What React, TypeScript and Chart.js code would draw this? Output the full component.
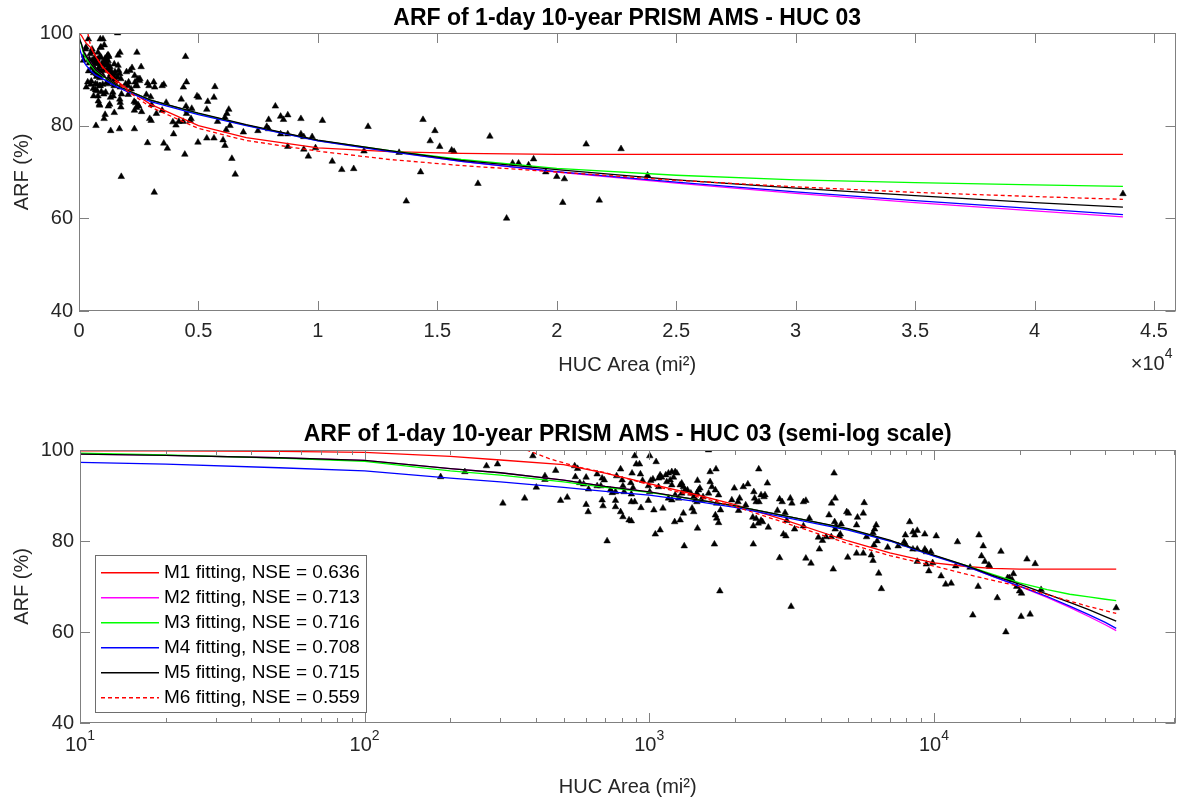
import React, { useEffect, useRef } from 'react';
import { Chart, registerables } from 'chart.js';

Chart.register(...registerables);

// ---------- text ----------
const TOP_TITLE = 'ARF of 1-day 10-year PRISM AMS - HUC 03';
const BOTTOM_TITLE = 'ARF of 1-day 10-year PRISM AMS - HUC 03 (semi-log scale)';
const X_TITLE = 'HUC Area (mi\u00B2)';
const Y_TITLE = 'ARF (%)';
const LEGEND_LABELS = [
  'M1 fitting, NSE = 0.636',
  'M2 fitting, NSE = 0.713',
  'M3 fitting, NSE = 0.716',
  'M4 fitting, NSE = 0.708',
  'M5 fitting, NSE = 0.715',
  'M6 fitting, NSE = 0.559',
];
const FIT_COLORS = ['#ff0000', '#ff00ff', '#00ff00', '#0000ff', '#000000', '#ff0000'];
const FIT_DASHED = [false, false, false, false, false, true];

// ---------- ticks ----------
const X_LIN_TICKS = [0, 5000, 10000, 15000, 20000, 25000, 30000, 35000, 40000, 45000];
const X_LOG_TICKS = [10, 100, 1000, 10000];
const LOG_MANTISSA = [2, 3, 4, 5, 6, 7, 8, 9];
const Y_TICKS = [40, 60, 80, 100];

// ---------- fitted curves ----------
const FIT_AREA = [10, 20, 50, 100, 200, 300, 500, 700, 1000, 1500, 2000, 3000, 5000, 7000, 10000, 13000, 16000, 20000, 25000, 30000, 35000, 40000, 43700];
const M1 = [99.8, 99.8, 99.7, 99.5, 98.6, 97.8, 96.8, 94.9, 92.6, 90.0, 88.0, 84.6, 80.0, 77.4, 75.2, 74.4, 74.0, 73.8, 73.8, 73.8, 73.8, 73.8, 73.8];
const M2 = [99.1, 98.8, 98.3, 97.7, 95.9, 95.0, 93.4, 92.0, 90.8, 89.0, 87.7, 85.5, 82.6, 80.1, 76.8, 74.5, 72.3, 70.0, 67.6, 65.4, 63.4, 61.6, 60.3];
const M3 = [99.3, 98.9, 98.2, 97.5, 95.4, 94.5, 93.0, 91.8, 90.7, 89.0, 87.7, 85.5, 82.6, 80.1, 76.8, 74.6, 72.7, 70.8, 69.3, 68.3, 67.7, 67.2, 66.9];
const M4 = [97.3, 96.9, 96.1, 95.4, 93.8, 93.0, 91.8, 90.9, 90.1, 88.6, 87.4, 85.2, 82.4, 80.0, 76.7, 74.4, 72.3, 70.1, 67.8, 65.7, 63.8, 62.1, 60.8];
const M5 = [99.1, 98.8, 98.3, 97.7, 95.9, 95.0, 93.4, 92.0, 90.8, 89.0, 87.7, 85.5, 82.7, 80.2, 76.9, 74.6, 72.5, 70.5, 68.3, 66.5, 64.9, 63.4, 62.4];
const M6_AREA = [370, 450, 560, 700, 1000, 1500, 2000, 3000, 5000, 7000, 10000, 13000, 16000, 20000, 25000, 30000, 35000, 40000, 43700];
const M6 = [100, 98.0, 96.3, 95.0, 92.4, 89.6, 87.6, 84.0, 79.4, 76.8, 74.5, 72.7, 71.4, 70.0, 68.2, 66.8, 65.6, 64.7, 64.1];

// ---------- observed ARF (scatter) ----------
const POINT_AREA = [
  185, 225, 268, 293, 390, 306, 365, 401, 430, 430, 469, 488, 515, 547, 560, 550, 600, 570, 588, 612,
  600, 610, 656, 683, 695, 656, 676, 683, 688, 711, 730, 741, 761, 768, 793, 761, 761, 793, 808, 849,
  865, 803, 808, 816, 861, 870, 889, 900, 924, 865, 877, 889, 865, 931, 935, 947, 1004, 1012, 1030, 993,
  1004, 993, 1038, 1057, 1050, 1615, 1092, 1078, 1105, 1143, 1168, 1200, 1233, 1250, 1217, 1184, 1152, 1200, 1078, 1284,
  1300, 1318, 1335, 1300, 1268, 1233, 1200, 1168, 1117, 1318, 1284, 1228, 1092, 1327, 1362, 1400, 1433, 1470, 1490, 1506,
  1452, 1470, 1525, 1545, 1477, 1636, 1716, 1636, 1660, 1616, 1414, 1433, 1477, 1707, 1752, 1725, 1780, 1707, 1725, 1752,
  1694, 1770, 1990, 1950, 2050, 2077, 2182, 2060, 2140, 2220, 2425, 2600, 2330, 2470, 2530, 2345, 2375, 2430, 2550, 2310,
  2375, 2470, 2320, 2415, 2500, 2620, 2320, 2870, 2930, 3130, 3170, 2820, 3000, 3040, 3240, 2960, 3020, 2870, 3150, 3480,
  3550, 3480, 3550, 3700, 4460, 4500, 4370, 4280, 4480, 4530, 4720, 4500, 4650, 4690, 3650, 3930, 4060, 4180, 4360, 3960,
  4940, 5010, 4980, 4430, 5390, 5350, 5690, 5650, 5350, 5650, 5800, 6030, 6110, 6160, 6110, 6190, 6270, 6320, 6400, 6540,
  6880, 7490, 7860, 7940, 8220, 8440, 8560, 8740, 7940, 8440, 8740, 9290, 9410, 9760, 9290, 10190, 8740, 9410, 9600, 9900,
  10600, 11000, 11500, 11930, 12100, 13400, 13700, 14300, 14400, 14700, 14900, 15100, 15600, 15700, 16700, 17200, 17900, 18150, 18400, 18820,
  19030, 19540, 20000, 20320, 20250, 21780, 21230, 22690, 23800, 43700,
];
const POINT_ARF = [
  94.1, 95.2, 96.5, 96.9, 98.7, 88.3, 89.4, 91.8, 94.3, 93.5, 95.5, 88.9, 89.6, 96.5, 95.9, 94.1, 94.0, 92.8, 92.5, 91.4,
  88.0, 86.4, 94.7, 93.8, 93.4, 92.1, 92.1, 89.0, 87.7, 80.0, 91.2, 90.6, 90.8, 94.3, 95.8, 88.9, 87.5, 86.4, 85.3, 84.6,
  84.4, 93.4, 92.1, 90.8, 92.8, 94.9, 98.7, 96.9, 96.9, 90.3, 91.7, 88.6, 88.6, 94.7, 87.3, 93.3, 98.7, 93.3, 93.6, 92.1,
  90.8, 88.9, 86.8, 97.4, 81.5, 100.0, 94.5, 93.8, 94.0, 94.5, 94.9, 95.2, 95.2, 94.9, 94.0, 93.4, 93.0, 92.3, 91.9, 92.3,
  92.7, 91.9, 91.2, 90.5, 89.4, 90.1, 89.0, 89.4, 87.2, 86.1, 84.6, 84.2, 82.4, 78.9, 91.2, 90.5, 89.7, 90.5, 91.2, 91.6,
  89.0, 88.6, 89.0, 89.7, 93.3, 95.2, 95.8, 93.0, 91.9, 90.5, 87.2, 86.4, 82.8, 91.2, 90.1, 88.3, 86.8, 85.7, 85.0, 84.0,
  79.3, 69.0, 91.6, 89.0, 88.6, 89.4, 87.9, 86.7, 91.9, 92.5, 95.8, 92.7, 90.8, 90.1, 89.7, 89.4, 88.6, 88.6, 90.1, 85.2,
  84.9, 84.5, 83.3, 83.9, 84.2, 83.0, 79.3, 89.2, 88.6, 89.4, 88.3, 86.7, 86.2, 84.5, 82.6, 81.5, 81.1, 76.3, 65.6, 88.6,
  88.9, 83.3, 76.2, 75.1, 94.9, 89.4, 88.3, 85.7, 84.2, 83.3, 83.7, 82.6, 81.1, 81.5, 85.0, 80.8, 80.1, 80.9, 80.9, 78.2,
  86.4, 86.1, 76.4, 73.8, 85.2, 83.5, 88.4, 86.1, 77.3, 77.3, 80.9, 76.9, 75.7, 79.1, 81.8, 82.6, 83.5, 80.0, 72.9, 69.5,
  78.6, 78.9, 79.8, 79.3, 84.2, 82.0, 81.3, 82.3, 81.3, 78.2, 78.2, 78.2, 77.6, 77.6, 81.5, 81.1, 75.5, 74.9, 73.4, 75.2,
  72.3, 70.5, 70.7, 74.5, 79.8, 74.2, 63.7, 70.0, 81.3, 76.7, 78.9, 75.5, 74.7, 74.4, 67.5, 77.7, 60.0, 71.9, 71.9, 71.5,
  72.8, 70.0, 69.0, 68.5, 63.4, 63.9, 76.0, 75.0, 69.3, 65.3,
];

const FONT = "'Liberation Sans', Arial, Helvetica, sans-serif";
const TEXT = '#262626';
const AXIS = '#808080';
const DASH = [4, 3];

function buildDatasets() {
  const fits = [M1, M2, M3, M4, M5];
  const ds: any[] = [
    {
      type: 'scatter',
      label: 'data',
      data: POINT_AREA.map((a, i) => ({ x: a, y: POINT_ARF[i] })),
      pointStyle: 'triangle',
      pointRadius: 3.8,
      pointBackgroundColor: '#000',
      pointBorderColor: '#000',
      pointBorderWidth: 0.5,
      showLine: false,
      order: 10,
    },
  ];
  fits.forEach((vals, k) => {
    ds.push({
      type: 'line',
      label: LEGEND_LABELS[k],
      data: FIT_AREA.map((a, i) => ({ x: a, y: vals[i] })),
      borderColor: FIT_COLORS[k],
      borderWidth: 1.3,
      pointRadius: 0,
      tension: 0,
      fill: false,
      order: 6 - k,
    });
  });
  ds.push({
    type: 'line',
    label: LEGEND_LABELS[5],
    data: M6_AREA.map((a, i) => ({ x: a, y: M6[i] })),
    borderColor: FIT_COLORS[5],
    borderWidth: 1.3,
    borderDash: DASH,
    pointRadius: 0,
    tension: 0,
    fill: false,
    order: 1,
  });
  return ds;
}

// MATLAB-like box with inward ticks on all four sides
const boxPlugin = {
  id: 'matlabBox',
  afterDatasetsDraw(chart: any, _args: any, opts: any) {
    const { ctx, chartArea } = chart;
    const { left, right, top, bottom } = chartArea;
    const xs = chart.scales.x;
    const ys = chart.scales.y;
    ctx.save();
    ctx.strokeStyle = AXIS;
    ctx.lineWidth = 1;
    ctx.setLineDash([]);
    ctx.beginPath();
    const major = 10;
    const minor = 5;
    xs.ticks.forEach((t: any) => {
      const p = Math.round(xs.getPixelForValue(t.value)) + 0.5;
      ctx.moveTo(p, bottom);
      ctx.lineTo(p, bottom - major);
      ctx.moveTo(p, top);
      ctx.lineTo(p, top + major);
    });
    if (opts.logMinor) {
      X_LOG_TICKS.forEach((d) => {
        LOG_MANTISSA.forEach((m) => {
          const v = d * m;
          if (v > xs.max) return;
          const p = Math.round(xs.getPixelForValue(v)) + 0.5;
          ctx.moveTo(p, bottom);
          ctx.lineTo(p, bottom - minor);
          ctx.moveTo(p, top);
          ctx.lineTo(p, top + minor);
        });
      });
    }
    ys.ticks.forEach((t: any) => {
      const p = Math.round(ys.getPixelForValue(t.value)) + 0.5;
      ctx.moveTo(left, p);
      ctx.lineTo(left + major, p);
      ctx.moveTo(right, p);
      ctx.lineTo(right - major, p);
    });
    ctx.stroke();
    ctx.strokeRect(Math.round(left) + 0.5, Math.round(top) + 0.5, Math.round(right - left) - 1, Math.round(bottom - top) - 1);

    if (opts.logLabels) {
      ctx.fillStyle = TEXT;
      ctx.textBaseline = 'middle';
      ctx.textAlign = 'left';
      X_LOG_TICKS.forEach((v) => {
        const p = xs.getPixelForValue(v);
        const base = '10';
        const sup = String(Math.round(Math.log10(v)));
        ctx.font = `20px ${FONT}`;
        const w1 = ctx.measureText(base).width;
        ctx.font = `14px ${FONT}`;
        const w2 = ctx.measureText(sup).width;
        const x0 = p - (w1 + w2) / 2;
        ctx.font = `20px ${FONT}`;
        ctx.fillText(base, x0, bottom + 22);
        ctx.font = `14px ${FONT}`;
        ctx.fillText(sup, x0 + w1, bottom + 13);
      });
    }
    if (opts.exponent) {
      ctx.fillStyle = TEXT;
      ctx.textBaseline = 'middle';
      ctx.textAlign = 'left';
      ctx.font = `14px ${FONT}`;
      const wSup = ctx.measureText('4').width;
      ctx.font = `20px ${FONT}`;
      const wBase = ctx.measureText('\u00D710').width;
      const xEnd = right - 3;
      const x0 = xEnd - wSup - wBase;
      ctx.fillText('\u00D710', x0, bottom + 53);
      ctx.font = `14px ${FONT}`;
      ctx.fillText('4', x0 + wBase, bottom + 43);
    }
    ctx.restore();
  },
};

const legendPlugin = {
  id: 'fitLegend',
  afterDraw(chart: any, _args: any, opts: any) {
    if (!opts.show) return;
    const { ctx, chartArea } = chart;
    const x0 = Math.round(chartArea.left + 15);
    const x1 = Math.round(chartArea.left + 286);
    const y1 = Math.round(chartArea.bottom - 11);
    const y0 = y1 - 157;
    ctx.save();
    ctx.fillStyle = '#ffffff';
    ctx.fillRect(x0, y0, x1 - x0, y1 - y0);
    ctx.strokeStyle = '#6e6e6e';
    ctx.lineWidth = 1;
    ctx.setLineDash([]);
    ctx.strokeRect(x0 + 0.5, y0 + 0.5, x1 - x0, y1 - y0);
    ctx.font = `19px ${FONT}`;
    ctx.textBaseline = 'middle';
    ctx.textAlign = 'left';
    LEGEND_LABELS.forEach((label, i) => {
      const yc = y0 + 17 + i * 25;
      ctx.fillStyle = FIT_COLORS[i];
      if (FIT_DASHED[i]) {
        for (let sx = x0 + 6; sx < x0 + 64; sx += DASH[0] + DASH[1]) {
          ctx.fillRect(sx, yc, Math.min(DASH[0], x0 + 64 - sx), 1.5);
        }
      } else {
        ctx.fillRect(x0 + 6, yc, 58, 1.5);
      }
      ctx.fillStyle = '#000000';
      ctx.fillText(label, x0 + 69, yc + 1);
    });
    ctx.restore();
  },
};

function makeConfig(log: boolean): any {
  const xScale: any = log
    ? {
        type: 'logarithmic',
        min: 10,
        max: 70600,
        afterBuildTicks: (s: any) => {
          s.ticks = X_LOG_TICKS.map((v) => ({ value: v }));
        },
        afterFit: (s: any) => {
          s.height = 78;
        },
        grid: { display: false, drawTicks: false },
        border: { display: false },
        ticks: { display: false },
        title: {
          display: true,
          text: X_TITLE,
          color: TEXT,
          font: { family: FONT, size: 20 },
          padding: { top: 0, bottom: 2 },
        },
      }
    : {
        type: 'linear',
        min: 0,
        max: 45900,
        afterBuildTicks: (s: any) => {
          s.ticks = X_LIN_TICKS.map((v) => ({ value: v }));
        },
        afterFit: (s: any) => {
          s.height = 89;
        },
        grid: { display: false, drawTicks: false },
        border: { display: false },
        ticks: {
          color: TEXT,
          font: { family: FONT, size: 20 },
          padding: 8,
          maxRotation: 0,
          autoSkip: false,
          callback: (v: any) => String(Math.round(Number(v) / 1000) / 10),
        },
        title: {
          display: true,
          text: X_TITLE,
          color: TEXT,
          font: { family: FONT, size: 20 },
          padding: { top: 0, bottom: 23 },
        },
      };

  return {
    type: 'scatter',
    data: { datasets: buildDatasets() },
    options: {
      animation: false,
      responsive: false,
      devicePixelRatio: 1,
      events: [],
      layout: { padding: { left: 0, right: 2, top: 0, bottom: 0 } },
      scales: {
        x: xScale,
        y: {
          type: 'linear',
          min: 40,
          max: 100,
          afterBuildTicks: (s: any) => {
            s.ticks = Y_TICKS.map((v) => ({ value: v }));
          },
          afterFit: (s: any) => {
            s.width = log ? 80 : 79;
          },
          grid: { display: false, drawTicks: false },
          border: { display: false },
          ticks: { color: TEXT, font: { family: FONT, size: 20 }, padding: 6 },
          title: {
            display: true,
            text: Y_TITLE,
            color: TEXT,
            font: { family: FONT, size: 20 },
            padding: { top: 10, bottom: 0 },
          },
        },
      },
      plugins: {
        legend: { display: false },
        tooltip: { enabled: false },
        title: {
          display: true,
          text: log ? BOTTOM_TITLE : TOP_TITLE,
          color: '#000',
          fullSize: false,
          font: { family: FONT, size: 23, weight: 'bold' },
          padding: log ? { top: 20.4, bottom: 2 } : { top: 5, bottom: 0.4 },
        },
        matlabBox: { logMinor: log, logLabels: log, exponent: !log },
        fitLegend: { show: log },
      },
    },
    plugins: [boxPlugin, legendPlugin],
  };
}

export default function App() {
  const topRef = useRef<HTMLCanvasElement>(null);
  const botRef = useRef<HTMLCanvasElement>(null);
  useEffect(() => {
    document.body.style.margin = '0';
    const c1 = new Chart(topRef.current as HTMLCanvasElement, makeConfig(false));
    const c2 = new Chart(botRef.current as HTMLCanvasElement, makeConfig(true));
    return () => {
      c1.destroy();
      c2.destroy();
    };
  }, []);
  return (
    <div style={{ position: 'relative', width: 1180, height: 801, background: '#ffffff', overflow: 'hidden' }}>
      <canvas ref={topRef} width={1180} height={400} style={{ position: 'absolute', left: 0, top: 0 }} />
      <canvas ref={botRef} width={1180} height={401} style={{ position: 'absolute', left: 0, top: 400 }} />
    </div>
  );
}
